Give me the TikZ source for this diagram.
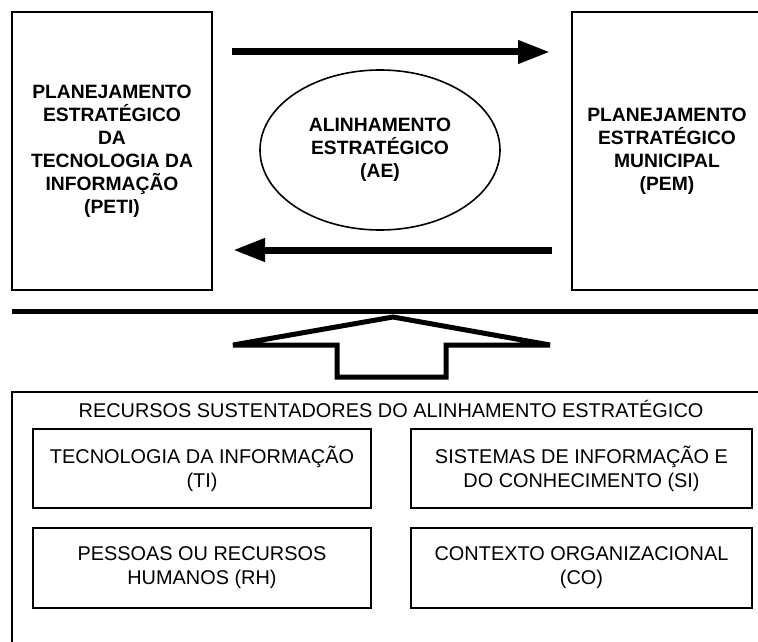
\documentclass[tikz,border=0pt]{standalone}
\usepackage{fontspec}
\setmainfont{Liberation Sans}
\usetikzlibrary{arrows.meta,calc,shapes.geometric}
\tikzset{
  box/.style={draw, line width=1.6pt, rectangle, inner sep=0pt, outer sep=0pt, align=center},
  toptext/.style={font=\bfseries\fontsize{19.3}{23}\selectfont, align=center},
  bottext/.style={font=\fontsize{19.9}{24}\selectfont, align=center},
  bigarrow/.style={line width=7pt, -{Triangle[length=32pt,width=22pt]}},
}
\begin{document}
\begin{tikzpicture}[x=1pt,y=-1pt]
\useasboundingbox (0,0) rectangle (758,642);
\fill[white] (0,0) rectangle (758,642);
\clip (0,0) rectangle (758,642);

% top boxes
\node[box, toptext, minimum width=200pt, minimum height=278pt] (peti) at (112,151)
  {PLANEJAMENTO\\ESTRAT\'EGICO\\DA\\TECNOLOGIA DA\\INFORMA\c{C}\~AO\\(PETI)};
\node[box, toptext, minimum width=190pt, minimum height=278pt] (pem) at (667,151)
  {PLANEJAMENTO\\ESTRAT\'EGICO\\MUNICIPAL\\(PEM)};
\node[draw, ellipse, line width=1.6pt, toptext, minimum width=240pt, minimum height=160pt, inner sep=0pt] (ae) at (380,150)
  {ALINHAMENTO\\ESTRAT\'EGICO\\(AE)};

% horizontal arrows
\draw[bigarrow] ($(peti.east |- 0,52)+(20,0)$) -- ($(pem.west |- 0,52)+(-22,0)$);
\draw[bigarrow] ($(pem.west |- 0,250)+(-20,0)$) -- ($(peti.east |- 0,250)+(21,0)$);

% divider line
\draw[line width=5pt] (12,311) -- (760,311);

% up arrow
\draw[line width=5pt, line join=miter, miter limit=4]
  (393,317) -- (550,345) -- (446,345) -- (446,377) -- (337,377) -- (337,345) -- (233,345) -- cycle;

% resources box
\node[box, minimum width=790pt, minimum height=300pt] (res) at (407,542) {};
\node[bottext] (title) at (391,409) {RECURSOS SUSTENTADORES DO ALINHAMENTO ESTRAT\'EGICO};

\node[box, bottext, minimum width=338pt, minimum height=79pt] (ti) at (202,468.5)
  {TECNOLOGIA DA INFORMA\c{C}\~AO\\(TI)};
\node[box, bottext, minimum width=341pt, minimum height=79pt] (si) at (581.5,468.5)
  {SISTEMAS DE INFORMA\c{C}\~AO E\\DO CONHECIMENTO (SI)};
\node[box, bottext, minimum width=338pt, minimum height=80pt] (rh) at (202,568)
  {PESSOAS OU RECURSOS\\HUMANOS (RH)};
\node[box, bottext, minimum width=341pt, minimum height=80pt] (co) at (581.5,568)
  {CONTEXTO ORGANIZACIONAL\\(CO)};
\end{tikzpicture}
\end{document}
